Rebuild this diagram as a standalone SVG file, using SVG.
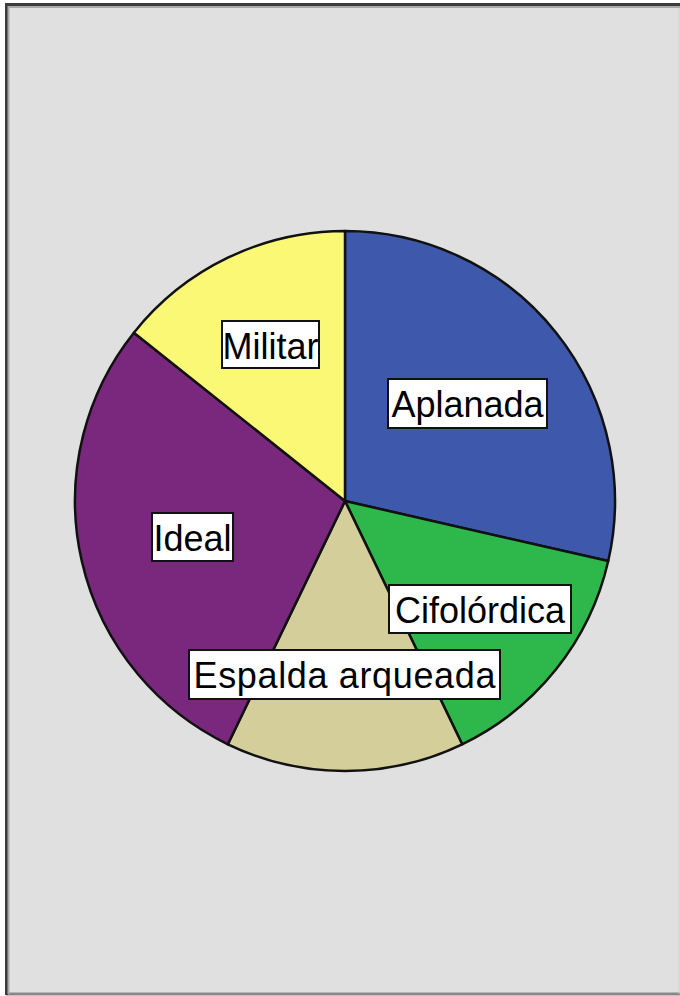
<svg xmlns="http://www.w3.org/2000/svg" width="680" height="996" viewBox="0 0 680 996">
<style>
.slice{stroke:#111;stroke-width:2.5;stroke-linejoin:round}
.lbl rect{fill:#fff;stroke:#111;stroke-width:2}
.lbl text{font-family:"Liberation Sans",Arial,sans-serif;font-size:36px;fill:#000;text-anchor:middle}
</style>
<rect x="0" y="0" width="680" height="996" fill="#ffffff"/>
<rect x="6" y="4" width="680" height="990" fill="#e0e0e0"/>
<path d="M6 994 L680 994" stroke="#888" stroke-width="3"/>
<path d="M6.5 995 L6.5 4.5 L680 4.5" fill="none" stroke="#3c3c3c" stroke-width="3"/>
<path d="M8.5 994 L8.5 7 L680 7" fill="none" stroke="#a8a8a8" stroke-width="2"/>
<path d="M679 8 L679 994" stroke="#cfcfcf" stroke-width="1"/>
<g id="pie">
<g id="slice-aplanada"><path class="slice" fill="#3e58ac" d="M345 501 L345 231 A270 270 0 0 1 608.23 561.08 Z"/></g>
<g id="slice-cifolordica"><path class="slice" fill="#2eb84b" d="M345 501 L608.23 561.08 A270 270 0 0 1 462.15 744.26 Z"/></g>
<g id="slice-espalda"><path class="slice" fill="#d3ce9a" d="M345 501 L462.15 744.26 A270 270 0 0 1 227.85 744.26 Z"/></g>
<g id="slice-ideal"><path class="slice" fill="#79287e" d="M345 501 L227.85 744.26 A270 270 0 0 1 133.91 332.66 Z"/></g>
<g id="slice-militar"><path class="slice" fill="#fbf875" d="M345 501 L133.91 332.66 A270 270 0 0 1 345 231 Z"/></g>
</g>
<g id="label-militar" class="lbl"><rect x="222" y="321" width="97" height="47"/><text x="270.5" y="359">Militar</text></g>
<g id="label-aplanada" class="lbl"><rect x="388" y="379" width="159" height="49"/><text x="467.5" y="417">Aplanada</text></g>
<g id="label-ideal" class="lbl"><rect x="152" y="513" width="81" height="48"/><text x="192.5" y="551">Ideal</text></g>
<g id="label-cifolordica" class="lbl"><rect x="389" y="585" width="182" height="48"/><text x="480" y="623">Cifolórdica</text></g>
<g id="label-espalda" class="lbl"><rect x="189" y="650" width="311" height="49"/><text x="344.5" y="688" textLength="302" lengthAdjust="spacing">Espalda arqueada</text></g>
</svg>
